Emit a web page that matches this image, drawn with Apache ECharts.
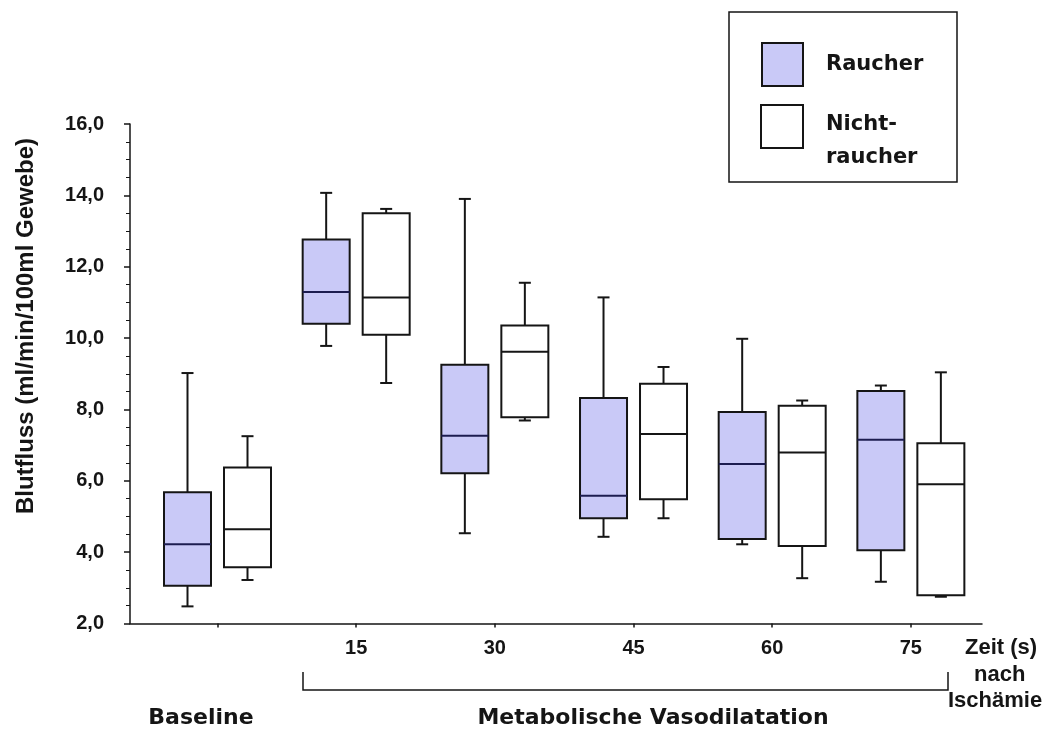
<!DOCTYPE html>
<html>
<head>
<meta charset="utf-8">
<script src="https://cdn.jsdelivr.net/npm/echarts@6/dist/echarts.min.js"></script>
<style>
  html, body { margin: 0; padding: 0; background: #fff; }
  #chart { width: 1047px; height: 732px; }
</style>
</head>
<body>
<div id="chart"></div>
<script>
// Time points after ischaemia (group 0 is the baseline measurement)
const groups = ['Baseline', '15', '30', '45', '60', '75'];
const tickLabels = ['', '15', '30', '45', '60', '75'];

// Blood flow per group: [min, Q1, median, Q3, max]
const raucher = [
  [2.48, 3.06, 4.22, 5.68, 9.02],
  [9.78, 10.40, 11.29, 12.76, 14.07],
  [4.53, 6.21, 7.26, 9.25, 13.90],
  [4.43, 4.95, 5.58, 8.32, 11.14],
  [4.22, 4.37, 6.47, 7.93, 9.98],
  [3.17, 4.05, 7.15, 8.52, 8.67]
];
const nichtraucher = [
  [3.22, 3.58, 4.64, 6.37, 7.25],
  [8.74, 10.09, 11.14, 13.50, 13.62],
  [7.69, 7.78, 9.62, 10.35, 11.55],
  [4.95, 5.48, 7.31, 8.72, 9.19],
  [3.27, 4.17, 6.79, 8.10, 8.25],
  [2.75, 2.79, 5.90, 7.05, 9.04]
];

const yTicks = { min: 2, max: 16, step: 2 };

const INK = '#151515';
const SMOKER_FILL = '#c9c9f7';
const BOX_W = 47;
const CAP_W = 12;
const PAIR_OFFSET = 30;

function toSeriesData(rows) {
  return rows.map((r, i) => [i].concat(r));
}

function boxRenderer(offsetPx, fill, medianColor) {
  return function (params, api) {
    const gx = api.value(0);
    const px = api.coord([gx, api.value(3)])[0] + offsetPx;
    const yMin = api.coord([gx, api.value(1)])[1];
    const yQ1 = api.coord([gx, api.value(2)])[1];
    const yMed = api.coord([gx, api.value(3)])[1];
    const yQ3 = api.coord([gx, api.value(4)])[1];
    const yMax = api.coord([gx, api.value(5)])[1];
    const line = { stroke: INK, lineWidth: 2 };
    return {
      type: 'group',
      children: [
        { type: 'line', shape: { x1: px, y1: yQ3, x2: px, y2: yMax }, style: line },
        { type: 'line', shape: { x1: px - CAP_W / 2, y1: yMax, x2: px + CAP_W / 2, y2: yMax }, style: line },
        { type: 'line', shape: { x1: px, y1: yQ1, x2: px, y2: yMin }, style: line },
        { type: 'line', shape: { x1: px - CAP_W / 2, y1: yMin, x2: px + CAP_W / 2, y2: yMin }, style: line },
        { type: 'rect', shape: { x: px - BOX_W / 2, y: yQ3, width: BOX_W, height: yQ1 - yQ3 },
          style: { fill: fill, stroke: INK, lineWidth: 2 } },
        { type: 'line', shape: { x1: px - BOX_W / 2, y1: yMed, x2: px + BOX_W / 2, y2: yMed },
          style: { stroke: medianColor, lineWidth: 2 } }
      ]
    };
  };
}

const numFont = { fontFamily: 'Liberation Sans, Arial, sans-serif', fontWeight: 'bold', fontSize: 20, color: INK };
const noteFont = 'bold 22px "Liberation Sans", Arial, sans-serif';
const wideFont = 'bold 22px "DejaVu Sans", Verdana, sans-serif';
const legendFont = 'bold 21px "DejaVu Sans", Verdana, sans-serif';

const chart = echarts.init(document.getElementById('chart'));
chart.setOption({
  backgroundColor: '#ffffff',
  animation: false,
  grid: { left: 130, right: 65, top: 124, bottom: 108.5 },
  xAxis: {
    type: 'value',
    min: -0.631,
    max: 5.513,
    splitLine: { show: false },
    axisLine: { onZero: false, lineStyle: { color: INK, width: 1.5 } },
    axisTick: {
      show: true,
      customValues: groups.map((g, i) => i),
      length: 4,
      lineStyle: { color: INK, width: 1.5 }
    },
    axisLabel: Object.assign({
      customValues: groups.map((g, i) => i).filter(i => tickLabels[i] !== ''),
      formatter: v => tickLabels[Math.round(v)],
      margin: 15
    }, numFont)
  },
  yAxis: {
    type: 'value',
    min: yTicks.min,
    max: yTicks.max,
    interval: yTicks.step,
    splitLine: { show: false },
    axisLine: { show: true, onZero: false, lineStyle: { color: INK, width: 1.5 } },
    axisTick: { show: true, length: 6, lineStyle: { color: INK, width: 1.5 } },
    minorTick: { show: true, splitNumber: 4, length: 4, lineStyle: { color: INK, width: 1 } },
    axisLabel: Object.assign({
      formatter: v => v.toFixed(1).replace('.', ','),
      margin: 26
    }, numFont)
  },
  series: [
    {
      name: 'Raucher',
      type: 'custom',
      renderItem: boxRenderer(-PAIR_OFFSET, SMOKER_FILL, '#1c1c50'),
      encode: { x: 0, y: [1, 2, 3, 4, 5] },
      data: toSeriesData(raucher),
      z: 3
    },
    {
      name: 'Nichtraucher',
      type: 'custom',
      renderItem: boxRenderer(PAIR_OFFSET, '#ffffff', INK),
      encode: { x: 0, y: [1, 2, 3, 4, 5] },
      data: toSeriesData(nichtraucher),
      z: 3
    }
  ],
  graphic: [
    // y axis title
    {
      type: 'text', x: 26, y: 326, rotation: Math.PI / 2,
      style: { text: 'Blutfluss (ml/min/100ml Gewebe)', font: 'bold 24px "Liberation Sans", Arial, sans-serif',
               fill: INK, align: 'center', verticalAlign: 'middle' }
    },
    // legend frame and entries
    { type: 'rect', shape: { x: 729, y: 12, width: 228, height: 170 },
      style: { fill: '#fff', stroke: INK, lineWidth: 1.5 } },
    { type: 'rect', shape: { x: 762, y: 43, width: 41, height: 43 },
      style: { fill: SMOKER_FILL, stroke: INK, lineWidth: 2 } },
    { type: 'rect', shape: { x: 761, y: 105, width: 42, height: 43 },
      style: { fill: '#fff', stroke: INK, lineWidth: 2 } },
    { type: 'text', x: 826, y: 65,
      style: { text: 'Raucher', font: legendFont, fill: INK, verticalAlign: 'middle' } },
    { type: 'text', x: 826, y: 125,
      style: { text: 'Nicht-', font: legendFont, fill: INK, verticalAlign: 'middle' } },
    { type: 'text', x: 826, y: 158,
      style: { text: 'raucher', font: legendFont, fill: INK, verticalAlign: 'middle' } },
    // time unit note at the end of the axis
    { type: 'text', x: 965, y: 648,
      style: { text: 'Zeit (s)', font: noteFont, fill: INK, verticalAlign: 'middle' } },
    { type: 'text', x: 974, y: 675,
      style: { text: 'nach', font: noteFont, fill: INK, verticalAlign: 'middle' } },
    { type: 'text', x: 948, y: 701,
      style: { text: 'Ischämie', font: noteFont, fill: INK, verticalAlign: 'middle' } },
    // bracket spanning the vasodilatation phase
    { type: 'polyline', shape: { points: [[303, 672], [303, 690], [948, 690], [948, 672]] },
      style: { stroke: INK, lineWidth: 1.5, fill: null } },
    { type: 'text', x: 201, y: 718,
      style: { text: 'Baseline', font: wideFont, fill: INK, align: 'center', verticalAlign: 'middle' } },
    { type: 'text', x: 653, y: 718,
      style: { text: 'Metabolische Vasodilatation', font: wideFont, fill: INK, align: 'center', verticalAlign: 'middle' } }
  ]
});
</script>
</body>
</html>
